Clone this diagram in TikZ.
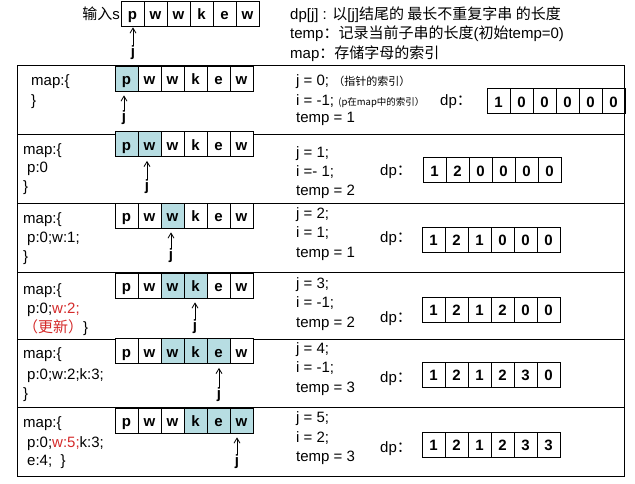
\documentclass[tikz,border=0pt]{standalone}
\usepackage{fontspec}
\setmainfont{Liberation Sans}
\newfontfamily\cjk{Noto Sans CJK SC}
\usetikzlibrary{arrows.meta}
\definecolor{cellblue}{HTML}{B7DDE2}
\definecolor{mapred}{HTML}{D42A2A}
\newcommand\notefont{\cjk\fontsize{11}{13}\selectfont}
\newcommand\smallnote{\cjk\fontsize{9.5}{12}\selectfont}

\tikzset{
	frame/.style={line width=0.8pt},
	cell/.style={draw, line width=0.8pt, minimum width=23pt, minimum height=25pt, inner sep=0pt,
		text height=13.5pt, text depth=1.5pt, font=\bfseries\fontsize{15}{15}\selectfont},
	txt/.style={anchor=base west, inner sep=0pt, font=\fontsize{15}{18}\selectfont},
	jlab/.style={inner sep=0pt, font=\bfseries\fontsize{15}{15}\selectfont},
	ptr/.style={-{Straight Barb[length=5pt,width=6pt]}, line width=0.8pt},
}

\begin{document}
\begin{tikzpicture}[x=1pt,y=-1pt]
		\useasboundingbox (0,0) rectangle (635,483);
		% header
		\node[txt, anchor=base east] (inlab) at (120,19) {{\cjk 输入}s};
		\foreach \ch [count=\k from 0] in {p,w,w,k,e,w}
			\node[cell] (s\k) at (132.5+23*\k,13.5) {\ch};
		\node[jlab] (j0) at (133,53) {j};
		\draw[ptr, shorten >=1pt] (j0) -- (j0 |- s0.south);
		\node[txt] (hdp) at (290,19) {dp[j] : {\cjk 以}[j]{\cjk 结尾的 最长不重复字串 的长度}};
		\node[txt] (htemp) at (290,38) {temp{\cjk ：记录当前子串的长度}({\cjk 初始}temp=0)};
		\node[txt] (hmap) at (290,58) {map{\cjk ：存储字母的索引}};
		% frame and rows
		\draw[frame] (17,65) rectangle (624,476);
		\foreach \y in {134,203,272,339,407}
			\draw[frame] (17,\y) -- (624,\y);
		% string cells, pointer j, dp cells
		\foreach \r/\y/\a/\b/\jx/\jy/\dx/\dy/\vals in {
				1/78.5/0/0/124/118/498.5/101/{1,0,0,0,0,0},
				2/144/0/1/147/187/434.5/170/{1,2,0,0,0,0},
				3/215.5/2/2/171/256/433.5/239.5/{1,2,1,0,0,0},
				4/285.5/2/3/195/327/433.5/309.5/{1,2,1,2,0,0},
				5/351/2/4/219/395/433.5/374.5/{1,2,1,2,3,0},
				6/420.5/3/5/237/462/433.5/444.5/{1,2,1,2,3,3}}{
			\foreach \ch [count=\k from 0] in {p,w,w,k,e,w}{
				\pgfmathtruncatemacro\pct{100*(\k>=\a)*(\k<=\b)}
				\node[cell, fill=cellblue!\pct!white] (c\r-\k) at (126.5+23*\k,\y) {\ch};
			}
			\foreach \v [count=\k from 0] in \vals
				\node[cell] (d\r-\k) at (\dx+23*\k,\dy) {\v};
			\node[jlab] (j\r) at (\jx,\jy) {j};
			\draw[ptr, shorten >=4pt] (j\r) -- (j\r |- c\r-0.south);
		}
		% row 1
		\node[txt] (m1a) at (31,85) {map:\{};
		\node[txt] (m1b) at (31,105) {\}};
		\node[txt] (t1a) at (296,85) {j = 0; {\notefont （指针的索引）}};
		\node[txt] (t1b) at (296,105) {i = -1; {\smallnote (p在map中的索引）}};
		\node[txt] (t1c) at (296,122) {temp = 1};
		\node[txt] (dp1) at (440,105) {dp{\cjk ：}};
		% row 2
		\node[txt] (m2a) at (23,154) {map:\{};
		\node[txt] (m2b) at (27,172) {p:0};
		\node[txt] (m2c) at (23,191) {\}};
		\node[txt] (t2a) at (296,157) {j = 1;};
		\node[txt] (t2b) at (296,176) {i =- 1;};
		\node[txt] (t2c) at (296,195) {temp = 2};
		\node[txt] (dp2) at (380,175) {dp{\cjk ：}};
		% row 3
		\node[txt] (m3a) at (23,223) {map:\{};
		\node[txt] (m3b) at (27,242) {p:0;w:1;};
		\node[txt] (m3c) at (23,261) {\}};
		\node[txt] (t3a) at (296,218) {j = 2;};
		\node[txt] (t3b) at (296,237) {i = 1;};
		\node[txt] (t3c) at (296,257) {temp = 1};
		\node[txt] (dp3) at (380,242) {dp{\cjk ：}};
		% row 4
		\node[txt] (m4a) at (23,294) {map:\{};
		\node[txt] (m4b) at (27,313) {p:0;\textcolor{mapred}{w:2;}};
		\node[txt] (m4c) at (23,332) {{\cjk\color{mapred}（更新）}\}};
		\node[txt] (t4a) at (296,288) {j = 3;};
		\node[txt] (t4b) at (296,307) {i = -1;};
		\node[txt] (t4c) at (296,327) {temp = 2};
		\node[txt] (dp4) at (380,322) {dp{\cjk ：}};
		% row 5
		\node[txt] (m5a) at (23,358) {map:\{};
		\node[txt] (m5b) at (27,379) {p:0;w:2;k:3;};
		\node[txt] (m5c) at (23,398) {\}};
		\node[txt] (t5a) at (296,353) {j = 4;};
		\node[txt] (t5b) at (296,372) {i = -1;};
		\node[txt] (t5c) at (296,392) {temp = 3};
		\node[txt] (dp5) at (380,382) {dp{\cjk ：}};
		% row 6
		\node[txt] (m6a) at (23,427) {map:\{};
		\node[txt] (m6b) at (27,447) {p:0;\textcolor{mapred}{w:5;}k:3;};
		\node[txt] (m6c) at (27,465) {e:4;\ \ \}};
		\node[txt] (t6a) at (296,422) {j = 5;};
		\node[txt] (t6b) at (296,442) {i = 2;};
		\node[txt] (t6c) at (296,461) {temp = 3};
		\node[txt] (dp6) at (380,452) {dp{\cjk ：}};
	\end{tikzpicture}
\end{document}
